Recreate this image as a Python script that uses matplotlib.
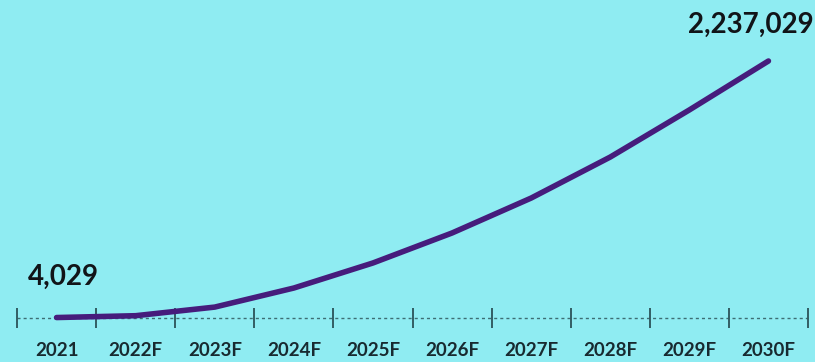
import matplotlib
matplotlib.use("Agg")
import matplotlib.pyplot as plt
from matplotlib.lines import Line2D

years = ["2021", "2022F", "2023F", "2024F", "2025F", "2026F", "2027F", "2028F", "2029F", "2030F"]
values = [4029, 20000, 95000, 261000, 479000, 740000, 1044000, 1401000, 1811000, 2237029]
first_label = "4,029"
last_label = "2,237,029"

bg = "#8fecf2"
line_color = "#461c7c"
axis_color = "#3d6e74"
text_color = "#111418"

plt.rcParams["font.family"] = ["Lato", "DejaVu Sans"]

fig = plt.figure(figsize=(8.15, 3.62), dpi=100, facecolor=bg)
ax = fig.add_axes([17 / 815, 1 - 318 / 362, (808 - 17) / 815, (318 - 61) / 362])
ax.set_facecolor(bg)
x = list(range(len(years)))
ax.plot(x, values, color=line_color, lw=4.0, solid_capstyle="round", solid_joinstyle="round", zorder=3, clip_on=False)

ax.set_xlim(-0.5, len(years) - 0.5)
ax.set_ylim(0, values[-1])
for s in ax.spines.values():
    s.set_visible(False)
ax.set_yticks([])
ax.set_xticks([])

# dashed baseline with tick marks between categories
ax.axhline(0, color=axis_color, lw=1.0, ls=(0, (2.2, 2.2)), zorder=1, clip_on=False)
for b in range(len(years) + 1):
    ax.add_line(Line2D([b - 0.5, b - 0.5], [0, 0], marker="|", markersize=15, markeredgewidth=1.1,
                       color="#2f5a60", clip_on=False, zorder=2))

for xi, lab in zip(x, years):
    ax.annotate(lab, (xi, 0), xytext=(0, -32), textcoords="offset pixels", ha="center", va="center",
                fontsize=13.5, fontweight="bold", color="#182a30")

ax.annotate(first_label, (0, values[0]), xytext=(-29, 33), textcoords="offset pixels", ha="left", va="baseline",
            fontsize=20, fontweight="bold", color=text_color)
ax.annotate(last_label, (x[-1], values[-1]), xytext=(45, 28), textcoords="offset pixels", ha="right", va="baseline",
            fontsize=20, fontweight="bold", color=text_color)

fig.savefig("out.png", dpi=100, facecolor=bg)
